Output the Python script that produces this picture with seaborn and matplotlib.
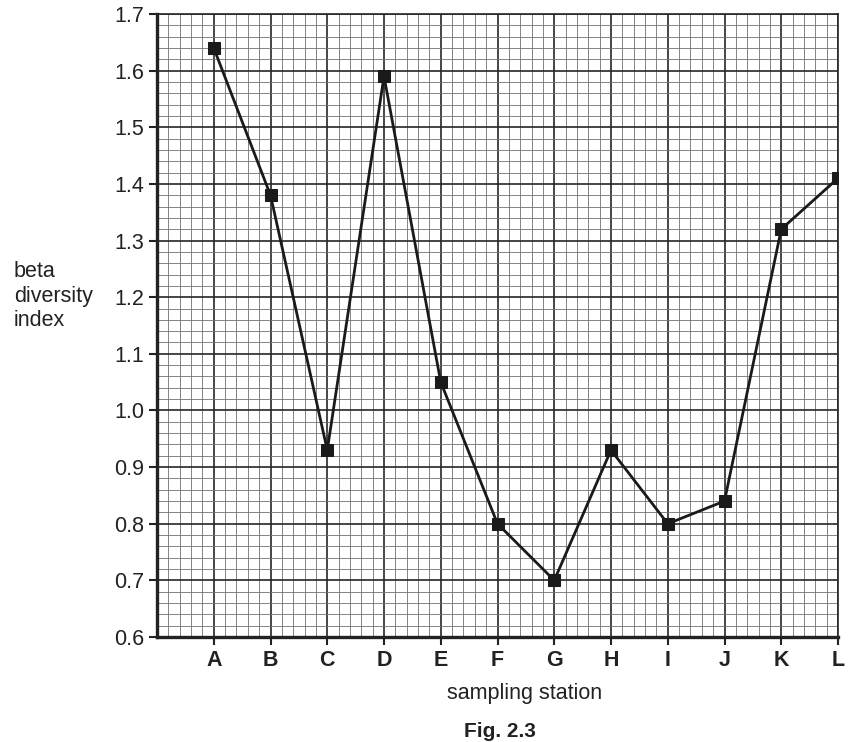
import numpy as np
import pandas as pd
import matplotlib.pyplot as plt
import seaborn as sns
from matplotlib.ticker import MultipleLocator

# -------------------------------
# data
# -------------------------------
stations = ["A", "B", "C", "D", "E", "F", "G", "H", "I", "J", "K", "L"]
beta_index = [1.64, 1.38, 0.93, 1.59, 1.05, 0.80, 0.70, 0.93, 0.80, 0.84, 1.32, 1.41]

df = pd.DataFrame({
    "pos": np.arange(1, len(stations) + 1),
    "station": stations,
    "beta": beta_index,
})

sns.set_theme(style="white")
plt.rcParams["font.family"] = ["Liberation Sans", "DejaVu Sans"]

fig = plt.figure(figsize=(8.58, 7.42), dpi=100)
ax = fig.add_axes([157 / 858, 1 - 637 / 742, (838 - 157) / 858, (637 - 14) / 742])

# graph paper grid
ax.set_xlim(0, 12)
ax.set_ylim(0.6, 1.7)
ax.xaxis.set_major_locator(MultipleLocator(1))
ax.xaxis.set_minor_locator(MultipleLocator(0.2))
ax.yaxis.set_major_locator(MultipleLocator(0.1))
ax.yaxis.set_minor_locator(MultipleLocator(0.02))
ax.grid(which="major", color="#262626", linewidth=1.2)
ax.grid(which="minor", color="#707070", linewidth=0.6)
ax.set_axisbelow(True)

sns.lineplot(data=df, x="pos", y="beta", ax=ax, color="#1a1a1a", linewidth=2.0,
             marker="s", markersize=8, markeredgecolor="#1a1a1a", zorder=5)

# ticks
ax.set_xticks(df["pos"])
ax.set_xticklabels(stations, fontsize=15.5, fontweight="bold", color="#222222")
yt = np.round(np.arange(0.6, 1.71, 0.1), 1)
ax.set_yticks(yt)
ax.set_yticklabels([f"{v:.1f}" for v in yt], fontsize=15.5, color="#222222")
ax.tick_params(axis="both", which="major", direction="out", length=6, width=1.5,
               color="#222222", pad=3, bottom=True, left=True)
ax.tick_params(axis="both", which="minor", length=0)

for side in ["left", "bottom"]:
    ax.spines[side].set_linewidth(2.4)
    ax.spines[side].set_color("#222222")
for side in ["top", "right"]:
    ax.spines[side].set_linewidth(1.2)
    ax.spines[side].set_color("#262626")

ax.set_xlabel("")
ax.set_ylabel("")

fig.text(14 / 858, 1 - 296 / 742, "beta\ndiversity\nindex", ha="left", va="center",
         fontsize=15.5, color="#222222", linespacing=1.2)
fig.text(525 / 858, 1 - 693 / 742, "sampling station", ha="center", va="center",
         fontsize=15.5, color="#222222")
fig.text(500 / 858, 1 - 741 / 742, "Fig. 2.3", ha="center", va="bottom",
         fontsize=15, fontweight="bold", color="#222222")

plt.savefig("out.png", dpi=100)
plt.close()
